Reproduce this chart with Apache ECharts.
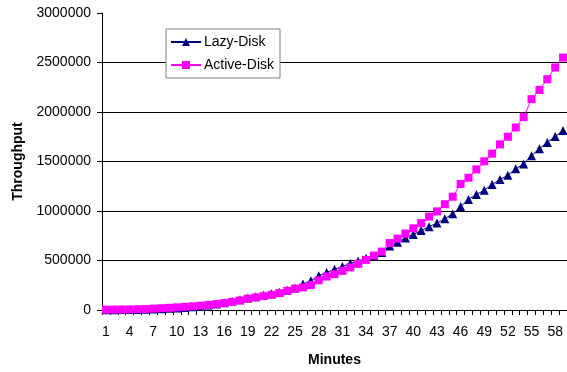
<!DOCTYPE html>
<html>
<head>
<meta charset="utf-8">
<script src="https://cdn.jsdelivr.net/npm/echarts@6/dist/echarts.min.js"></script>
<style>
html,body{margin:0;padding:0;background:#fff;}
#chart{width:567px;height:372px;}
</style>
</head>
<body>
<div id="chart"></div>
<script>
var minutes = [];
for (var m = 1; m <= 59; m++) minutes.push(String(m));

var lazyDisk = [2000,3000,4000,5000,6000,8000,10000,13000,17000,21000,
  26000,32000,39000,50000,60000,74000,88000,104000,120000,134000,
  148000,163000,180000,200000,222000,262000,295000,345000,379000,412000,
  440000,470000,496000,522000,546000,580000,647000,684000,727000,762000,
  802000,842000,878000,922000,973000,1045000,1117000,1167000,1210000,1268000,
  1318000,1361000,1426000,1476000,1559000,1630000,1693000,1753000,1814000];

var activeDisk = [3000,4000,5000,6000,8000,10000,14000,18000,22000,27000,
  32000,38000,44000,52000,60000,70000,82000,96000,115000,128000,
  140000,154000,171000,194000,216000,228000,252000,300000,338000,362000,
  395000,430000,466000,506000,550000,590000,676000,721000,772000,825000,
  878000,943000,996000,1069000,1144000,1273000,1336000,1420000,1502000,1579000,
  1673000,1750000,1844000,1949000,2130000,2223000,2331000,2450000,2550000];

var FONT = '"Liberation Sans", Arial, sans-serif';
var chart = echarts.init(document.getElementById('chart'), null, {renderer: 'canvas'});
chart.setOption({
  animation: false,
  backgroundColor: '#fff',
  grid: {left: 102, top: 13, right: 0, bottom: 61, containLabel: false},
  legend: {
    orient: 'vertical',
    left: 166, top: 29,
    width: 113,
    padding: [6, 6, 6, 4],
    itemGap: 9,
    itemWidth: 30, itemHeight: 10,
    backgroundColor: '#fff',
    borderColor: '#808080', borderWidth: 1,
    textStyle: {fontFamily: FONT, fontSize: 14, color: '#000', padding: [0, 0, 0, -2]},
    data: ['Lazy-Disk', 'Active-Disk']
  },
  xAxis: {
    type: 'category',
    data: minutes,
    boundaryGap: true,
    name: 'Minutes',
    nameLocation: 'middle',
    nameGap: 43,
    nameTextStyle: {fontFamily: FONT, fontSize: 14, fontWeight: 'bold', color: '#000'},
    axisLine: {lineStyle: {color: '#000', width: 1}},
    axisTick: {show: true, interval: 0, length: 5, lineStyle: {color: '#000', width: 1}},
    axisLabel: {interval: 2, margin: 15, fontFamily: FONT, fontSize: 14, color: '#000'},
    splitLine: {show: false}
  },
  yAxis: {
    type: 'value',
    min: 0, max: 3000000, interval: 500000,
    name: 'Throughput',
    nameLocation: 'middle',
    nameGap: 69,
    nameTextStyle: {fontFamily: FONT, fontSize: 14, fontWeight: 'bold', color: '#000'},
    axisLine: {show: true, lineStyle: {color: '#000', width: 1}},
    axisTick: {show: true, length: 5, lineStyle: {color: '#000'}},
    axisLabel: {margin: 11, fontFamily: FONT, fontSize: 14, color: '#000',
      formatter: function (v) { return String(v); }},
    splitLine: {show: true, showMaxLine: false, lineStyle: {color: '#000', width: 1}}
  },
  series: [
    {
      name: 'Lazy-Disk', type: 'line', data: lazyDisk,
      symbol: 'triangle', symbolSize: 9, showAllSymbol: true,
      lineStyle: {color: '#000080', width: 1},
      itemStyle: {color: '#000080', borderWidth: 0}
    },
    {
      name: 'Active-Disk', type: 'line', data: activeDisk,
      symbol: 'rect', symbolSize: 8, showAllSymbol: true,
      lineStyle: {color: '#FF00FF', width: 1},
      itemStyle: {color: '#FF00FF', borderWidth: 0}
    }
  ]
});
</script>
</body>
</html>
